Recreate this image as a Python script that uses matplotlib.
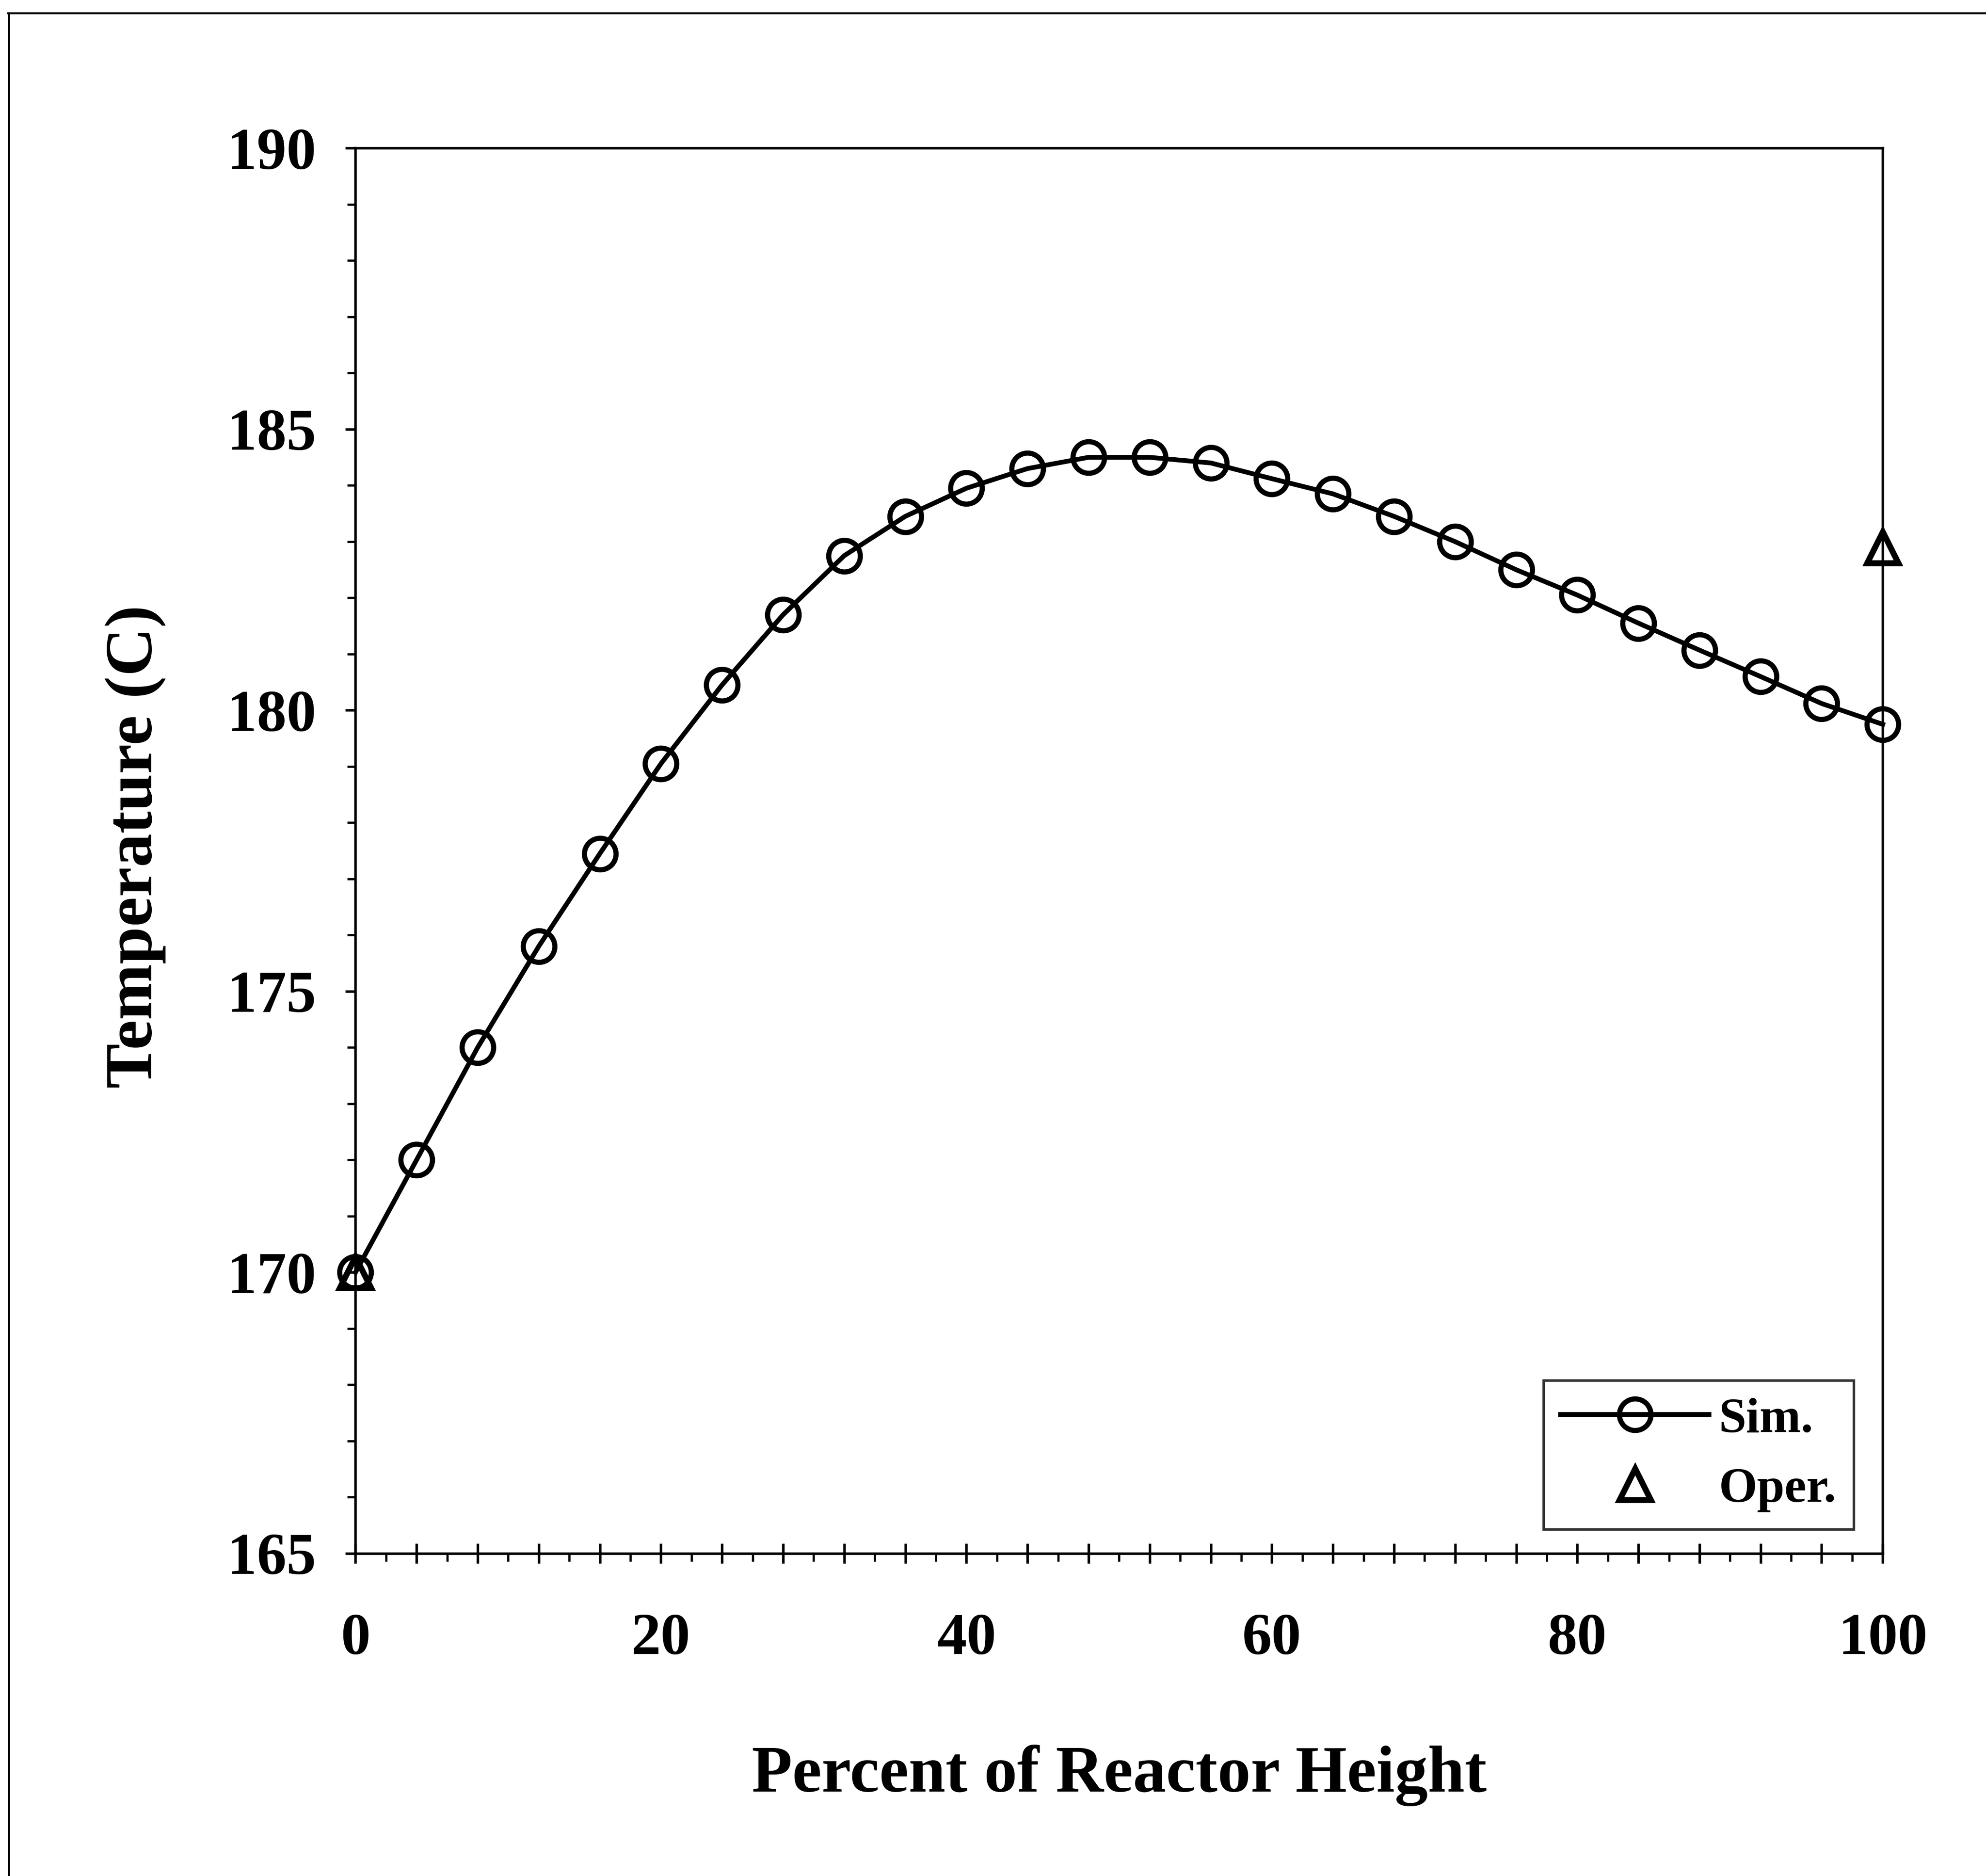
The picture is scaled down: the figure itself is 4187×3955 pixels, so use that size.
import matplotlib
matplotlib.use("Agg")
import matplotlib.pyplot as plt
from matplotlib.lines import Line2D
from matplotlib.ticker import MultipleLocator, FuncFormatter

# data
height_pct = [0, 4, 8, 12, 16, 20, 24, 28, 32, 36, 40, 44, 48,
              52, 56, 60, 64, 68, 72, 76, 80, 84, 88, 92, 96, 100]
sim_temp = [170.0, 172.0, 174.0, 175.8, 177.45, 179.05, 180.45, 181.7,
            182.75, 183.45, 183.95, 184.3, 184.5, 184.5, 184.4, 184.12,
            183.85, 183.45, 183.0, 182.5, 182.05, 181.55, 181.07, 180.6,
            180.12, 179.75]
oper_x = [0, 100]
oper_temp = [170.0, 182.9]

plt.rcParams['font.family'] = ['Liberation Serif', 'DejaVu Serif']
plt.rcParams['font.weight'] = 'bold'

fig = plt.figure(figsize=(4187 / 300, 3955 / 300), dpi=300)
ax = fig.add_axes([0.179, 0.172, 0.769, 0.749])

# hollow markers: the line shows through them, like the original
ax.plot(height_pct, sim_temp, color='black', lw=2.4, marker='o',
        ms=16, mfc='none', mec='black', mew=2.6, label='Sim.', zorder=3,
        clip_on=False)
ax.plot(oper_x, oper_temp, ls='none', marker='^', ms=16, mfc='none',
        mec='black', mew=3.0, label='Oper.', zorder=4, clip_on=False)

ax.set_xlim(0, 100)
ax.set_ylim(165, 190)

ax.xaxis.set_major_locator(MultipleLocator(4))
ax.xaxis.set_minor_locator(MultipleLocator(2))
ax.xaxis.set_major_formatter(
    FuncFormatter(lambda v, p: f"{int(round(v))}" if round(v) % 20 == 0 else ""))
ax.yaxis.set_major_locator(MultipleLocator(5))
ax.yaxis.set_minor_locator(MultipleLocator(1))

ax.tick_params(axis='x', which='major', direction='inout', length=10,
               width=1.3, pad=25, labelsize=30)
ax.tick_params(axis='x', which='minor', direction='out', length=4, width=1.1)
ax.tick_params(axis='y', which='major', direction='out', length=5,
               width=1.3, pad=15, labelsize=30)
ax.tick_params(axis='y', which='minor', direction='out', length=4, width=1.1)
ax.tick_params(top=False, right=False, which='both')

for s in ax.spines.values():
    s.set_linewidth(1.3)

ax.set_xlabel("Percent of Reactor Height", fontsize=33.5, fontweight='bold')
ax.set_ylabel("Temperature (C)", fontsize=34, fontweight='bold')
ax.xaxis.set_label_coords(0.5, -0.136)
ax.yaxis.set_label_coords(-0.124, 0.503)

leg = ax.legend(loc='lower right', bbox_to_anchor=(0.981, 0.017),
                fontsize=25, frameon=True, fancybox=False, edgecolor='black',
                handlelength=3.0, handletextpad=0.2, borderpad=0.35,
                labelspacing=0.5, borderaxespad=0)
leg.get_frame().set_linewidth(1.3)

# outer scan frame (top and left edges)
fig.add_artist(Line2D([0.004, 1.0], [0.993, 0.993], color='black', lw=1.0))
fig.add_artist(Line2D([0.0045, 0.0045], [0.0, 0.993], color='black', lw=1.0))

fig.savefig("out.png", dpi=300, facecolor='white')
